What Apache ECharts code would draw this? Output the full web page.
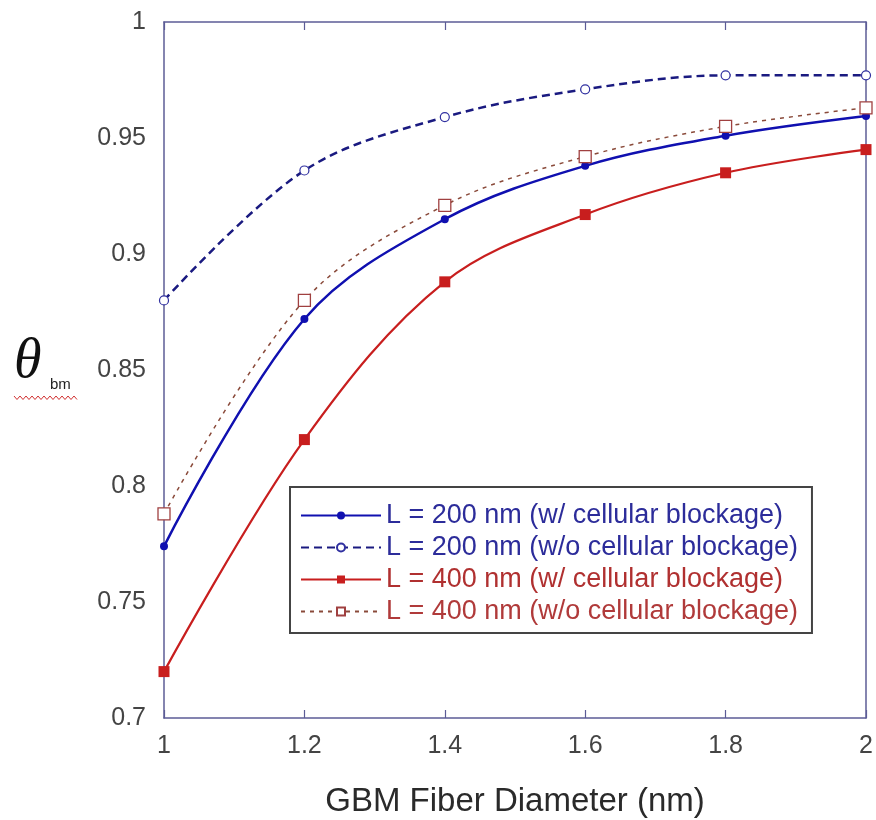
<!DOCTYPE html>
<html>
<head>
<meta charset="utf-8">
<script src="https://cdn.jsdelivr.net/npm/echarts@6/dist/echarts.min.js"></script>
<style>html,body{margin:0;padding:0;background:#fff}#c{width:876px;height:820px}</style>
</head>
<body>
<div id="c"></div>
<script>
var diameters = [1, 1.2, 1.4, 1.6, 1.8, 2];
var l200With = [0.774, 0.872, 0.915, 0.938, 0.951, 0.9595];
var l200Without = [0.880, 0.936, 0.959, 0.971, 0.977, 0.977];
var l400With = [0.720, 0.820, 0.888, 0.917, 0.935, 0.945];
var l400Without = [0.788, 0.880, 0.921, 0.942, 0.955, 0.963];
var seriesNames = [
  'L = 200 nm (w/ cellular blockage)',
  'L = 200 nm (w/o cellular blockage)',
  'L = 400 nm (w/ cellular blockage)',
  'L = 400 nm (w/o cellular blockage)'
];
var xTitle = 'GBM Fiber Diameter (nm)';

function pairs(vals){ return diameters.map(function(d,i){ return [d, vals[i]]; }); }

var axisCol = '#5c5c96';
var chart = echarts.init(document.getElementById('c'));
var squig = [];
for (var i = 0; i <= 21; i++) { squig.push([14 + i * 3, (i % 2 === 0) ? 396 : 399.5]); }

chart.setOption({
  animation: false,
  grid: { left: 164, right: 10, top: 22, bottom: 102, containLabel: false, outerBoundsMode: 'none' },
  xAxis: [{
    type: 'value', min: 1, max: 2, interval: 0.2,
    name: xTitle, nameLocation: 'middle', nameGap: 67,
    nameTextStyle: { fontFamily: 'Liberation Sans', fontSize: 33, color: '#2a2a2a' },
    axisLine: { lineStyle: { color: axisCol, width: 1.5 } },
    axisTick: { inside: true, length: 8, lineStyle: { color: axisCol, width: 1.2 } },
    axisLabel: { margin: 16, fontFamily: 'Liberation Sans', fontSize: 25, color: '#444',
      formatter: function(v){ return String(+v.toFixed(1)); } },
    splitLine: { show: false }
  }, {
    type: 'value', position: 'top', min: 1, max: 2, interval: 0.2,
    axisLine: { show: true, onZero: false, lineStyle: { color: axisCol, width: 1.5 } },
    axisTick: { inside: true, length: 8, lineStyle: { color: axisCol, width: 1.2 } },
    axisLabel: { show: false }, splitLine: { show: false }
  }],
  yAxis: [{
    type: 'value', min: 0.7, max: 1, interval: 0.05,
    axisLine: { show: true, lineStyle: { color: axisCol, width: 1.5 } },
    axisTick: { show: false },
    axisLabel: { margin: 18, fontFamily: 'Liberation Sans', fontSize: 25, color: '#444',
      formatter: function(v){ return String(+v.toFixed(2)); } },
    splitLine: { show: false }
  }, {
    type: 'value', position: 'right', min: 0.7, max: 1, interval: 0.05,
    axisLine: { show: true, onZero: false, lineStyle: { color: axisCol, width: 1.5 } },
    axisTick: { show: false }, axisLabel: { show: false }, splitLine: { show: false }
  }],
  legend: {
    left: 290, top: 487, orient: 'vertical',
    backgroundColor: '#fff', borderColor: '#444', borderWidth: 2,
    padding: [15, 14, 8, 10], itemGap: 5, itemWidth: 80, itemHeight: 10,
    textStyle: { fontFamily: 'Liberation Sans', fontSize: 27, padding: [0,0,0,0] },
    data: [
      { name: seriesNames[0], textStyle: { color: '#2c2c9a' } },
      { name: seriesNames[1], textStyle: { color: '#2c2c9a' } },
      { name: seriesNames[2], textStyle: { color: '#b03030' } },
      { name: seriesNames[3], textStyle: { color: '#b03a3a' } }
    ]
  },
  graphic: [
    { type: 'text', left: 14, top: 334, style: { text: 'θ', fontFamily: 'Liberation Serif', fontStyle: 'italic', fontSize: 56, fill: '#111' } },
    { type: 'text', left: 50, top: 377, style: { text: 'bm', fontFamily: 'Liberation Sans', fontSize: 15, fill: '#222' } },
    { type: 'polyline', shape: { points: squig }, style: { stroke: '#d03030', lineWidth: 1, fill: null } }
  ],
  series: [{
    name: seriesNames[0], type: 'line', data: pairs(l200With), smooth: 0.35,
    symbol: 'circle', symbolSize: 8,
    lineStyle: { color: '#1010b0', width: 2.5 },
    itemStyle: { color: '#1010b0' }
  }, {
    name: seriesNames[1], type: 'line', data: pairs(l200Without), smooth: 0.35,
    symbol: 'circle', symbolSize: 9,
    lineStyle: { color: '#1a1a80', width: 2.5, type: [8, 5] },
    itemStyle: { color: '#fff', borderColor: '#3030a0', borderWidth: 1.2 }
  }, {
    name: seriesNames[2], type: 'line', data: pairs(l400With), smooth: 0.35,
    symbol: 'rect', symbolSize: 11,
    lineStyle: { color: '#c81e1e', width: 2.2 },
    itemStyle: { color: '#c81e1e' }
  }, {
    name: seriesNames[3], type: 'line', data: pairs(l400Without), smooth: 0.35,
    symbol: 'rect', symbolSize: 12,
    lineStyle: { color: '#8a4a3a', width: 1.5, type: [4, 5] },
    itemStyle: { color: '#fff', borderColor: '#a04040', borderWidth: 1.3 }
  }]
});
</script>
</body>
</html>
